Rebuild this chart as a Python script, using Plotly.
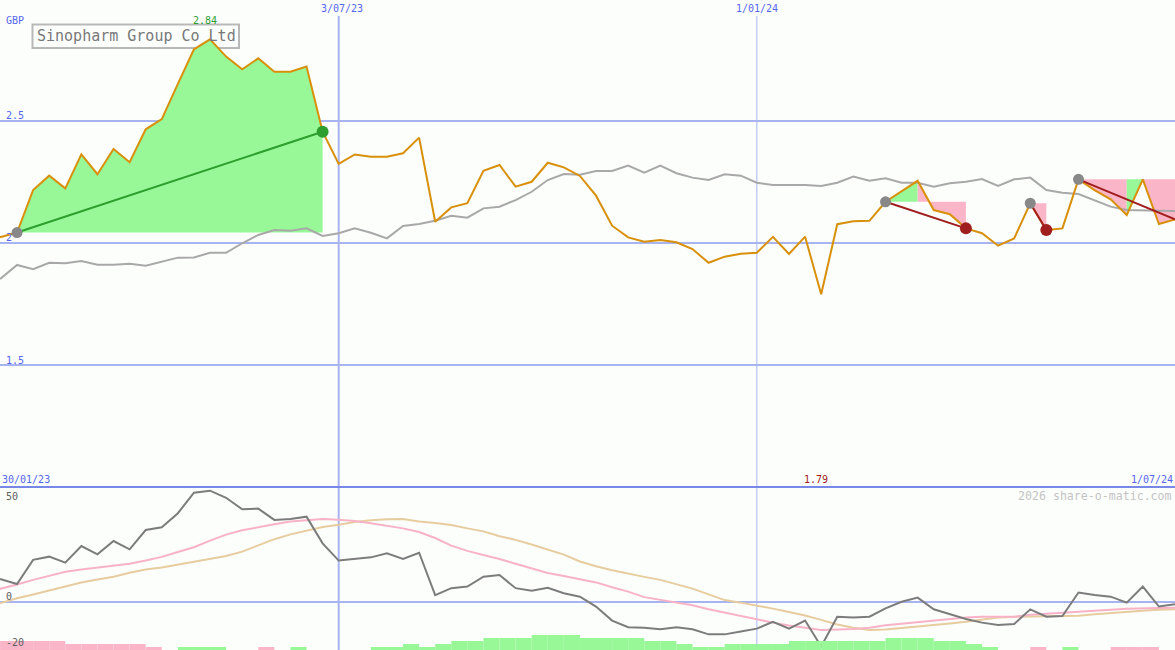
import datetime as dt
import plotly.graph_objects as go

# ---------------- data ----------------
start_date = dt.date(2023, 1, 30)
n_weeks = 75
dates = [start_date + dt.timedelta(days=7 * k) for k in range(n_weeks)]

price = [2.02, 2.025, 2.043, 2.217, 2.276, 2.224, 2.363, 2.282, 2.385, 2.331,
         2.466, 2.508, 2.652, 2.794, 2.835, 2.764, 2.712, 2.757, 2.702, 2.702,
         2.723, 2.456, 2.324, 2.363, 2.354, 2.354, 2.368, 2.432, 2.087, 2.146,
         2.163, 2.296, 2.320, 2.231, 2.251, 2.329, 2.310, 2.275, 2.194, 2.071,
         2.023, 2.005, 2.012, 2.003, 1.975, 1.919, 1.944, 1.956, 1.960, 2.025,
         1.955, 2.026, 1.79, 2.077, 2.089, 2.091, 2.169, 2.213, 2.255, 2.135,
         2.118, 2.060, 2.040, 1.989, 2.019, 2.163, 2.053, 2.060, 2.261, 2.217,
         2.179, 2.115, 2.261, 2.078, 2.097]

avg_line = [1.83, 1.855, 1.910, 1.893, 1.919, 1.917, 1.926, 1.911, 1.911, 1.915,
            1.907, 1.925, 1.940, 1.941, 1.960, 1.960, 1.999, 2.033, 2.053, 2.050,
            2.060, 2.029, 2.040, 2.060, 2.042, 2.019, 2.070, 2.078, 2.091, 2.112,
            2.104, 2.142, 2.149, 2.176, 2.210, 2.258, 2.283, 2.280, 2.295, 2.295,
            2.317, 2.288, 2.317, 2.286, 2.268, 2.258, 2.282, 2.276, 2.247, 2.238,
            2.238, 2.238, 2.234, 2.247, 2.272, 2.255, 2.265, 2.247, 2.247, 2.231,
            2.245, 2.251, 2.262, 2.234, 2.261, 2.268, 2.217, 2.206, 2.201, 2.176,
            2.149, 2.135, 2.135, 2.132, 2.131]

momentum = [10.0, 9.9, 7.8, 18.3, 19.7, 17.1, 24.3, 20.7, 26.5, 22.9,
            31.3, 32.5, 38.6, 47.5, 48.4, 45.3, 40.3, 40.6, 35.7, 36.1,
            37.1, 25.5, 18.0, 18.6, 19.4, 21.2, 18.7, 21.4, 3.0, 6.0,
            6.7, 11.0, 11.7, 6.0, 4.9, 6.2, 3.8, 2.3, -2.0, -8.1,
            -11.0, -11.2, -11.9, -11.0, -11.9, -14.1, -14.1, -12.9, -11.6, -8.6,
            -11.6, -8.1, -19.4, -6.4, -6.8, -6.4, -2.8, 0.1, 1.9, -3.2,
            -5.2, -7.4, -9.0, -10.0, -9.6, -3.2, -6.4, -6.1, 4.1, 3.0,
            2.3, -0.3, 6.7, -2.0, -1.0]

signal_fast = [4.0, 5.7, 7.6, 9.6, 11.5, 13.1, 14.1, 15.0, 15.8, 16.6,
               18.0, 19.6, 21.7, 23.8, 26.7, 29.3, 31.2, 32.6, 33.8, 35.0,
               35.7, 36.1, 35.8, 35.2, 34.2, 33.2, 32.0, 30.4, 27.8, 24.5,
               22.2, 20.4, 18.7, 16.6, 14.6, 12.6, 11.3, 10.0, 8.5, 6.4,
               4.5, 2.1, 0.9, -0.2, -1.4, -3.2, -4.7, -6.3, -7.6, -9.0,
               -10.2, -11.2, -12.2, -12.0, -11.8, -11.2, -10.1, -9.5, -8.8, -7.9,
               -7.5, -6.8, -6.4, -6.4, -6.4, -5.6, -5.1, -4.8, -4.4, -3.9,
               -3.4, -3.0, -2.7, -2.6, -2.5]

signal_slow = [-2.5, -0.5, 1.6, 3.2, 5.0, 7.0, 8.5, 9.8, 11.0, 12.7,
               14.1, 15.0, 16.3, 17.7, 18.8, 20.0, 21.9, 24.6, 27.3, 29.4,
               31.0, 32.6, 33.6, 34.8, 35.5, 36.0, 36.1, 35.0, 34.3, 33.5,
               32.0, 30.7, 28.6, 27.0, 25.0, 22.8, 20.6, 17.6, 15.5, 13.8,
               12.2, 10.9, 9.6, 7.8, 5.8, 3.3, 0.8, -0.3, -1.5, -2.9,
               -4.4, -5.9, -7.8, -9.8, -11.2, -12.2, -12.0, -11.4, -10.8, -10.3,
               -9.4, -8.6, -7.6, -6.8, -6.5, -6.4, -6.3, -6.2, -6.0, -5.4,
               -4.8, -4.2, -3.8, -3.4, -3.2]

hist_levels = [-3, -3, -3, -3, -3, -2, -2, -2, -2, -2,
               -1, 0, 1, 1, 1, 0, 0, -1, 0, 1,
               0, 0, 0, 0, 1, 1, 2, 1, 2, 3,
               3, 4, 4, 4, 5, 5, 5, 4, 4, 4,
               4, 3, 3, 2, 1, 1, 2, 2, 2, 2,
               3, 3, 3, 3, 3, 3, 4, 4, 4, 3,
               3, 2, 1, 0, 0, -1, 0, 1, 0, 0,
               -1, -1, -1, 0, 0]

trade_entry = [2, 56, 65, 68]
trade_exit = [21, 61, 66, 74]
# (first week, last week, direction, trade index)
fill_segments = [(2, 21, "up", 0), (56, 58, "up", 1), (58, 61, "down", 1),
                 (65, 66, "down", 2), (68, 71, "down", 3), (71, 72, "up", 3),
                 (72, 74, "down", 3)]

grid_dates = [dt.date(2023, 7, 3), dt.date(2024, 1, 1)]
grid_date_labels = ["3/07/23", "1/01/24"]
price_ticks = [1.5, 2.0, 2.5]
price_tick_labels = ["1.5", "2", "2.5"]
osc_ticks = [50, 0, -20]
osc_tick_labels = ["50", "0", "-20"]
title_text = "Sinopharm Group Co Ltd"
currency = "GBP"
range_start_label = "30/01/23"
range_end_label = "1/07/24"
high_label = "2.84"
watermark = "2026 share-o-matic.com"

# ---------------- styles ----------------
W, H = 1175, 650
BG = "#FCFEFC"
GRID = "#A8B4F0"
DIVIDER = "#7888E8"
LABEL_BLUE = "#5566EE"
MONO = "DejaVu Sans Mono"
GREEN_FILL = "#98F898"
PINK_FILL = "#FAB6C8"
PRICE_COL = "#D8900A"
AVG_COL = "#A8A8A8"
main_bottom_px = 487
split = (H - main_bottom_px) / H


def py(px):
    return 1 - px / H


fig = go.Figure()

# trade fills
for ks, ke, direction, ti in fill_segments:
    level = price[trade_entry[ti]]
    xs = dates[ks:ke + 1] + [dates[ke], dates[ks]]
    ys = price[ks:ke + 1] + [level, level]
    fig.add_trace(go.Scatter(x=xs, y=ys, mode="lines", fill="toself",
                             fillcolor=GREEN_FILL if direction == "up" else PINK_FILL,
                             line=dict(width=0), hoverinfo="skip", yaxis="y"))

# average line & price line
fig.add_trace(go.Scatter(x=dates, y=avg_line, mode="lines",
                         line=dict(color=AVG_COL, width=2), hoverinfo="skip"))
fig.add_trace(go.Scatter(x=dates, y=price, mode="lines",
                         line=dict(color=PRICE_COL, width=2), hoverinfo="skip"))

# trade lines and markers
for a, b in zip(trade_entry, trade_exit):
    win = price[b] > price[a]
    col = "#2E9E2E" if win else "#A01E1E"
    fig.add_trace(go.Scatter(x=[dates[a], dates[b]], y=[price[a], price[b]],
                             mode="lines", line=dict(color=col, width=2),
                             hoverinfo="skip"))
    fig.add_trace(go.Scatter(x=[dates[a]], y=[price[a]], mode="markers",
                             marker=dict(color="#888888", size=11),
                             hoverinfo="skip", cliponaxis=False))
    if b < len(dates) - 1:
        fig.add_trace(go.Scatter(x=[dates[b]], y=[price[b]], mode="markers",
                                 marker=dict(color=col, size=12),
                                 hoverinfo="skip"))

# histogram bars in oscillator panel
fig.add_trace(go.Bar(x=dates, y=[abs(v) for v in hist_levels],
                     marker=dict(color=[GREEN_FILL if v > 0 else PINK_FILL for v in hist_levels],
                                 line=dict(width=0)),
                     width=7 * 86400000, offset=0, yaxis="y3", hoverinfo="skip"))

# oscillator lines
fig.add_trace(go.Scatter(x=dates, y=signal_slow, mode="lines", yaxis="y2",
                         line=dict(color="#E6CC9E", width=2), hoverinfo="skip"))
fig.add_trace(go.Scatter(x=dates, y=signal_fast, mode="lines", yaxis="y2",
                         line=dict(color="#F8B2C8", width=2), hoverinfo="skip"))
fig.add_trace(go.Scatter(x=dates, y=momentum, mode="lines", yaxis="y2",
                         line=dict(color="#7C7C7C", width=2), hoverinfo="skip"))

shapes = []
for gd, w in zip(grid_dates, [2, 1]):
    shapes.append(dict(type="line", xref="x", yref="paper", x0=gd, x1=gd,
                       y0=0, y1=py(16), line=dict(color=GRID, width=w), layer="below"))
shapes.append(dict(type="line", xref="paper", yref="paper", x0=0, x1=1,
                   y0=split, y1=split, line=dict(color=DIVIDER, width=2), layer="below"))
shapes.append(dict(type="rect", xref="paper", yref="paper",
                   x0=32.5 / W, x1=239 / W, y0=py(48), y1=py(24.5),
                   line=dict(color="#B8B8B8", width=2), layer="below"))

ann = []


def label(text, xpx, ypx, color, size=10, xanchor="left"):
    ann.append(dict(text=text, x=xpx / W, y=py(ypx), xref="paper", yref="paper",
                    xanchor=xanchor, yanchor="middle", showarrow=False,
                    font=dict(family=MONO, size=size, color=color), borderpad=0))


label(currency, 5, 21, LABEL_BLUE)
tick_px = {1.5: 360, 2.0: 237.5, 2.5: 116}
for v, t in zip(price_ticks, price_tick_labels):
    label(t, 5, tick_px[v], LABEL_BLUE)
osc_px = {50: 496, 0: 596.5, -20: 642}
for v, t in zip(osc_ticks, osc_tick_labels):
    label(t, 5, osc_px[v], "#606060")
for gd, t, sh in zip(grid_dates, grid_date_labels, [3, 0]):
    ann.append(dict(text=t, x=gd, y=py(8.5), xref="x", yref="paper",
                    xanchor="center", yanchor="middle", showarrow=False, xshift=sh,
                    font=dict(family=MONO, size=10, color=LABEL_BLUE)))
label(range_start_label, 1, 479, LABEL_BLUE)
label(range_end_label, 1174, 479, LABEL_BLUE, xanchor="right")

k_hi = price.index(max(price))
k_lo = price.index(min(price))
ann.append(dict(text=high_label, x=dates[k_hi], y=py(21), xref="x", yref="paper",
                xshift=-5, xanchor="center", yanchor="middle", showarrow=False,
                font=dict(family=MONO, size=10, color="#2E9E2E")))
ann.append(dict(text=f"{min(price):.2f}", x=dates[k_lo], y=py(479), xref="x",
                yref="paper", xshift=-5, xanchor="center", yanchor="middle",
                showarrow=False, font=dict(family=MONO, size=10, color="#A01E1E")))
label(watermark, 1173, 496, "#C4C4C4", size=11.6, xanchor="right")
label(title_text, 136, 36.5, "#787878", size=15, xanchor="center")

fig.update_layout(
    width=W, height=H, margin=dict(l=0, r=0, t=0, b=0),
    paper_bgcolor=BG, plot_bgcolor=BG, showlegend=False,
    xaxis=dict(type="date", range=["2023-02-05 14:00", "2024-07-01 00:00"],
               showgrid=False, showticklabels=False, zeroline=False, ticks="",
               fixedrange=True),
    yaxis=dict(domain=[split, 1], range=[1.0, 2.996], tickvals=price_ticks,
               showgrid=True, gridcolor=GRID, gridwidth=2, showticklabels=False,
               zeroline=False, ticks=""),
    yaxis2=dict(domain=[0, split], range=[-20.9, 50], tickvals=[0],
                showgrid=True, gridcolor=GRID, gridwidth=2, showticklabels=False,
                zeroline=False, ticks="", anchor="x"),
    yaxis3=dict(overlaying="y2", range=[0, (H - main_bottom_px) / 3], visible=False,
                anchor="x"),
    shapes=shapes, annotations=ann, hovermode=False,
)

fig.write_html("out.html", config={"displayModeBar": False},
               post_script="document.body.style.margin='0';document.body.style.background='%s';" % BG)
